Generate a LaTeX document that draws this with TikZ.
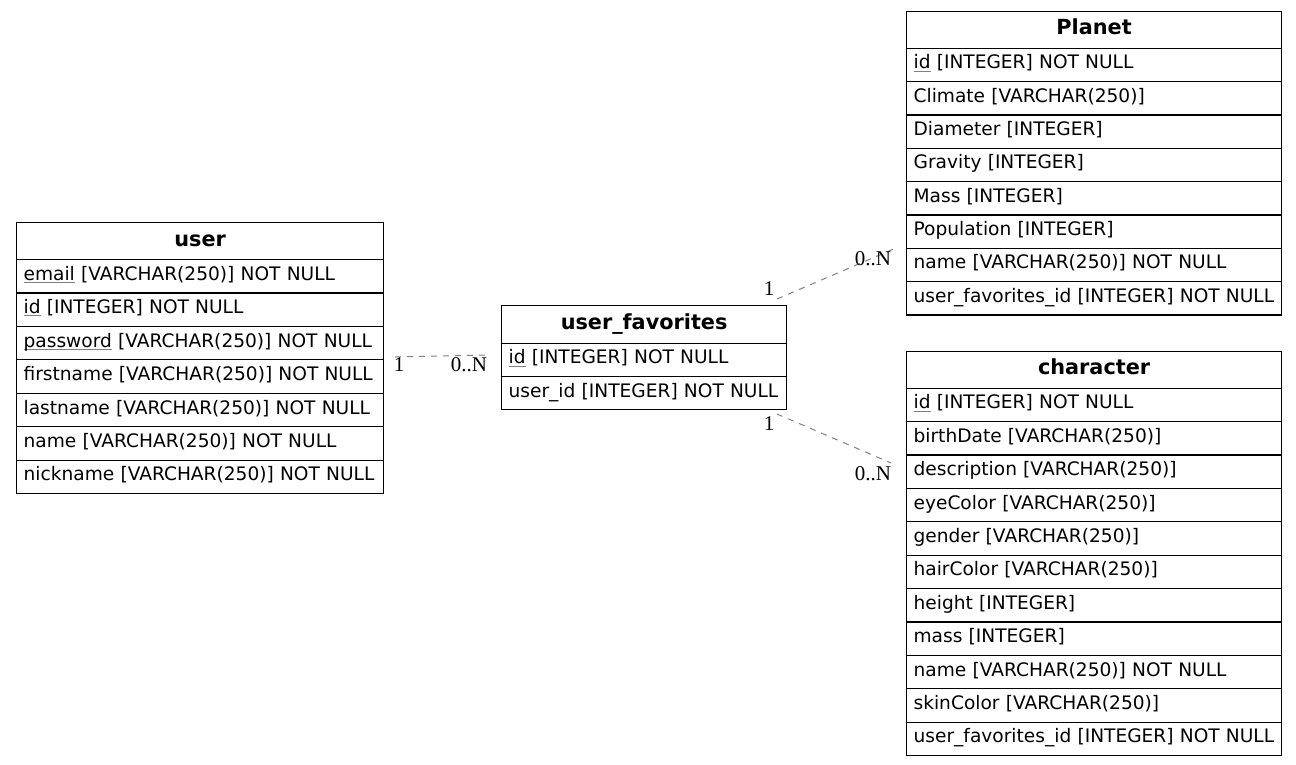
\documentclass[tikz,border=0pt]{standalone}
\usepackage{fontspec}
\setmainfont{DejaVu Sans}
\newfontfamily\lblfont{Liberation Serif}
\newcommand\keyf[1]{\setbox0\hbox{#1}\rlap{\textcolor{gray}{\rule[-2.6pt]{\wd0}{0.9pt}}}\box0\relax}
\begin{document}
\begin{tikzpicture}[x=1pt,y=-1pt,
  cellbase/.style={draw=black, line width=1.2pt, anchor=north west, inner ysep=0pt,
     font=\fontsize{18.6}{22}\selectfont, text height=12pt, text depth=4pt},
  hdr/.style={cellbase, align=center, inner xsep=0pt, text height=14pt, text depth=4pt,
     font=\fontsize{20.8}{24}\selectfont\bfseries},
  rowc/.style={cellbase, align=left, inner xsep=7pt},
  rel/.style={draw=gray, line width=1pt, dash pattern=on 6pt off 6pt},
  lbl/.style={font=\lblfont\fontsize{21}{23}\selectfont, anchor=base, inner sep=0pt}
]
\useasboundingbox (0,0) rectangle (1296,765);

% ---- user ----
\node[hdr, minimum width=367pt, minimum height=37pt] (user) at (16,222) {user};
\foreach [count=\i] \t in {\keyf{email} [VARCHAR(250)] NOT NULL,
  \keyf{id} [INTEGER] NOT NULL,
  \keyf{password} [VARCHAR(250)] NOT NULL,
  firstname [VARCHAR(250)] NOT NULL,
  lastname [VARCHAR(250)] NOT NULL,
  name [VARCHAR(250)] NOT NULL,
  nickname [VARCHAR(250)] NOT NULL}
  \node[rowc, minimum width=367pt, text width=353pt, minimum height=33.43pt] (user-\i) at ({16},{259+(\i-1)*33.43}) {\t};

% ---- user_favorites ----
\node[hdr, minimum width=285pt, minimum height=37.7pt] (uf) at (501,305) {user\_favorites};
\foreach [count=\i] \t in {\keyf{id} [INTEGER] NOT NULL,
  user\_id [INTEGER] NOT NULL}
  \node[rowc, minimum width=285pt, text width=271pt, minimum height=33.2pt] (uf-\i) at ({501},{342.7+(\i-1)*33.2}) {\t};

% ---- Planet ----
\node[hdr, minimum width=375pt, minimum height=37pt] (planet) at (906,10.7) {Planet};
\foreach [count=\i] \t in {\keyf{id} [INTEGER] NOT NULL,
  Climate [VARCHAR(250)],
  Diameter [INTEGER],
  Gravity [INTEGER],
  Mass [INTEGER],
  Population [INTEGER],
  name [VARCHAR(250)] NOT NULL,
  user\_favorites\_id [INTEGER] NOT NULL}
  \node[rowc, minimum width=375pt, text width=361pt, minimum height=33.33pt] (planet-\i) at ({906},{47.7+(\i-1)*33.33}) {\t};

% ---- character ----
\node[hdr, minimum width=375pt, minimum height=37pt] (char) at (906,350.7) {character};
\foreach [count=\i] \t in {\keyf{id} [INTEGER] NOT NULL,
  birthDate [VARCHAR(250)],
  description [VARCHAR(250)],
  eyeColor [VARCHAR(250)],
  gender [VARCHAR(250)],
  hairColor [VARCHAR(250)],
  height [INTEGER],
  mass [INTEGER],
  name [VARCHAR(250)] NOT NULL,
  skinColor [VARCHAR(250)],
  user\_favorites\_id [INTEGER] NOT NULL}
  \node[rowc, minimum width=375pt, text width=361pt, minimum height=33.39pt] (char-\i) at ({906},{387.7+(\i-1)*33.39}) {\t};

% ---- connector ends ----
\coordinate (userE) at (395,357);
\coordinate (ufW) at (490,355);
\coordinate (ufNE) at (777,299);
\coordinate (planetW) at (896,248);
\coordinate (ufSE) at (777,414);
\coordinate (charW) at (891,463);

\draw[rel] (userE) -- (ufW);
\draw[rel] (ufNE) -- (planetW);
\draw[rel] (ufSE) -- (charW);

% ---- multiplicities ----
\node[lbl] (m1) at (399,371.5) {1};
\node[lbl] (m2) at (469,371.5) {0..N};
\node[lbl] (m3) at (769,295) {1};
\node[lbl] (m4) at (873,265) {0..N};
\node[lbl] (m5) at (769,430) {1};
\node[lbl] (m6) at (873,480) {0..N};
\end{tikzpicture}
\end{document}
